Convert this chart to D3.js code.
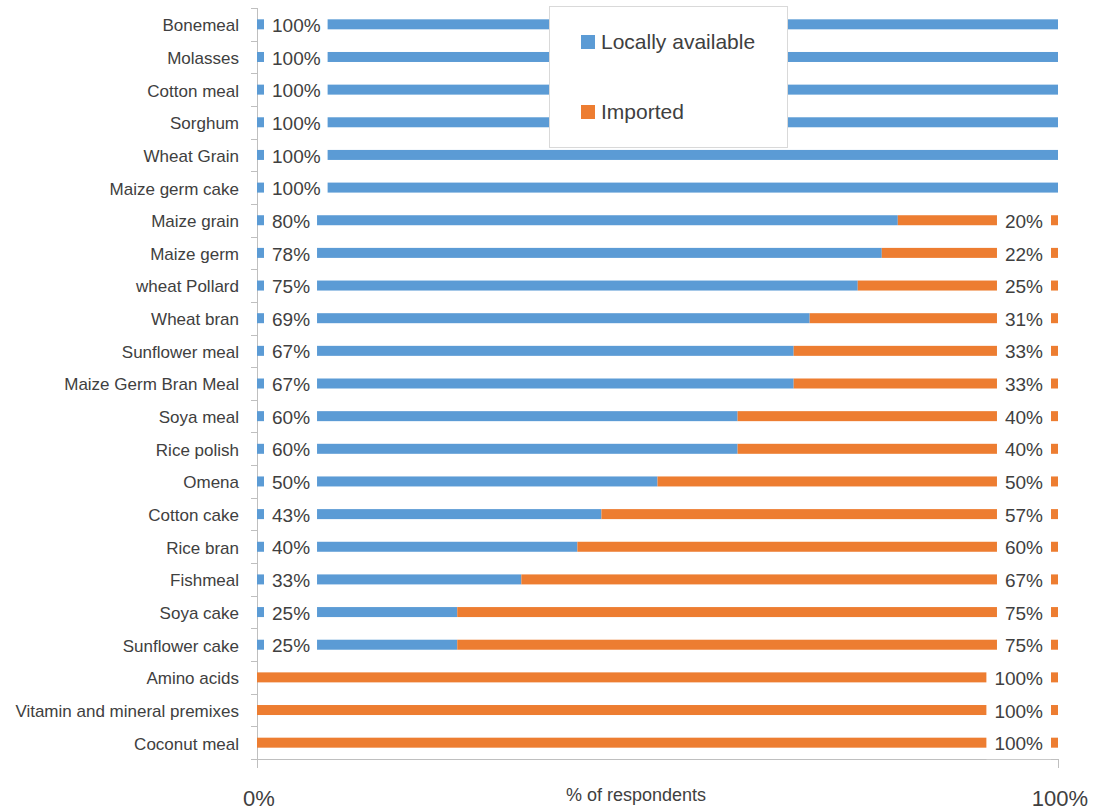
<!DOCTYPE html>
<html>
<head>
<meta charset="utf-8">
<style>
  body { margin: 0; background: #fff; }
  text { font-family: "Liberation Sans", Arial, sans-serif; fill: #404040; }
  .cat { font-size: 17px; }
  .val { font-size: 19px; }
</style>
<script src="https://cdnjs.cloudflare.com/ajax/libs/d3/7.8.5/d3.min.js"></script>
</head>
<body>
<script>
// feed ingredients, top to bottom
var categories = ["Bonemeal", "Molasses", "Cotton meal", "Sorghum", "Wheat Grain",
  "Maize germ cake", "Maize grain", "Maize germ", "wheat Pollard", "Wheat bran",
  "Sunflower meal", "Maize Germ Bran Meal", "Soya meal", "Rice polish", "Omena",
  "Cotton cake", "Rice bran", "Fishmeal", "Soya cake", "Sunflower cake",
  "Amino acids", "Vitamin and mineral premixes", "Coconut meal"];
var local    = [100, 100, 100, 100, 100, 100, 80, 78, 75, 69, 67, 67, 60, 60, 50, 43, 40, 33, 25, 25, 0, 0, 0];
var imported = [0, 0, 0, 0, 0, 0, 20, 22, 25, 31, 33, 33, 40, 40, 50, 57, 60, 67, 75, 75, 100, 100, 100];
var seriesNames = ["Locally available", "Imported"];
var xTicks = [0, 100];

var W = 1093, H = 812;
var blue = "#5B9BD5", orange = "#ED7D31", axisCol = "#bfbfbf";

var svg = d3.select("body").append("svg")
    .attr("width", W)
    .attr("height", H);

var x = d3.scaleLinear().domain([0, 100]).range([257, 1058]);
var y = d3.scaleBand().domain(categories).range([8, 759]);
var barH = 10;

// axes (drawn first, labels boxes may cover them like in the original)
var ax = svg.append("g").attr("stroke", axisCol).attr("stroke-width", 1);
ax.append("line").attr("x1", x(0) + 0.5).attr("x2", x(0) + 0.5)
  .attr("y1", y.range()[0]).attr("y2", y.range()[1] + 9);
ax.append("line").attr("x1", x(0)).attr("x2", x(100))
  .attr("y1", y.range()[1] + 0.5).attr("y2", y.range()[1] + 0.5);
// category boundary ticks
d3.range(categories.length + 1).forEach(function(i) {
  var yy = Math.round(y.range()[0] + i * y.step()) + 0.5;
  ax.append("line").attr("x1", x(0) - 6).attr("x2", x(0)).attr("y1", yy).attr("y2", yy);
});
xTicks.forEach(function(t) {
  ax.append("line").attr("x1", Math.round(x(t)) + 0.5).attr("x2", Math.round(x(t)) + 0.5)
    .attr("y1", y.range()[1]).attr("y2", y.range()[1] + 9);
});

var rows = categories.map(function(c, i) {
  return {cat: c, local: local[i], imported: imported[i]};
});

var g = svg.append("g");

// bars
g.selectAll(".bl").data(rows.filter(function(d) { return d.local > 0; }))
  .enter().append("rect")
  .attr("x", x(0))
  .attr("y", function(d) { return y(d.cat) + y.bandwidth() / 2 - barH / 2; })
  .attr("width", function(d) { return x(d.local) - x(0); })
  .attr("height", barH)
  .attr("fill", blue);

g.selectAll(".bi").data(rows.filter(function(d) { return d.imported > 0; }))
  .enter().append("rect")
  .attr("x", function(d) { return x(d.local); })
  .attr("y", function(d) { return y(d.cat) + y.bandwidth() / 2 - barH / 2; })
  .attr("width", function(d) { return x(d.local + d.imported) - x(d.local); })
  .attr("height", barH)
  .attr("fill", orange);

// value labels with white boxes
var boxH = 33;
rows.forEach(function(d) {
  var cy = y(d.cat) + y.bandwidth() / 2;
  if (d.local > 0) {
    var lg = g.append("g");
    var r = lg.append("rect").attr("fill", "#fff");
    var t = lg.append("text").attr("class", "val")
      .attr("x", x(0) + 15).attr("y", cy + 1).attr("dy", "0.35em")
      .text(d.local + "%");
    var w = t.node().getComputedTextLength();
    r.attr("x", x(0) + 7).attr("y", cy - boxH / 2).attr("width", w + 15).attr("height", boxH);
  }
  if (d.imported > 0) {
    var ig = g.append("g");
    var r2 = ig.append("rect").attr("fill", "#fff");
    var t2 = ig.append("text").attr("class", "val")
      .attr("x", x(100) - 15).attr("y", cy + 1).attr("dy", "0.35em")
      .attr("text-anchor", "end")
      .text(d.imported + "%");
    var w2 = t2.node().getComputedTextLength();
    r2.attr("x", x(100) - 15 - w2 - 8).attr("y", cy - boxH / 2).attr("width", w2 + 16).attr("height", boxH);
  }
});

// category labels
svg.append("g").selectAll("text").data(categories).enter().append("text")
  .attr("class", "cat")
  .attr("x", 239)
  .attr("y", function(d) { return y(d) + y.bandwidth() / 2 + 1; })
  .attr("dy", "0.35em")
  .attr("text-anchor", "end")
  .text(function(d) { return d; });

// x tick labels and title
svg.append("g").selectAll("text").data(xTicks).enter().append("text")
  .attr("x", function(d) { return x(d) + 2; })
  .attr("y", 806)
  .attr("text-anchor", "middle")
  .style("font-size", "22px")
  .text(function(d) { return d + "%"; });

svg.append("text")
  .attr("x", 636).attr("y", 801)
  .attr("text-anchor", "middle")
  .style("font-size", "18px")
  .text("% of respondents");

// legend
var leg = svg.append("g");
leg.append("rect").attr("x", 549.5).attr("y", 6.5).attr("width", 238).attr("height", 141)
  .attr("fill", "#fff").attr("stroke", "#d9d9d9");
var legColors = [blue, orange];
var legY = [42, 112];
seriesNames.forEach(function(n, i) {
  leg.append("rect").attr("x", 581).attr("y", legY[i] - 7).attr("width", 14).attr("height", 14)
    .attr("fill", legColors[i]);
  leg.append("text").attr("x", 601).attr("y", legY[i] + 7)
    .style("font-size", "21px").text(n);
});
</script>
</body>
</html>
